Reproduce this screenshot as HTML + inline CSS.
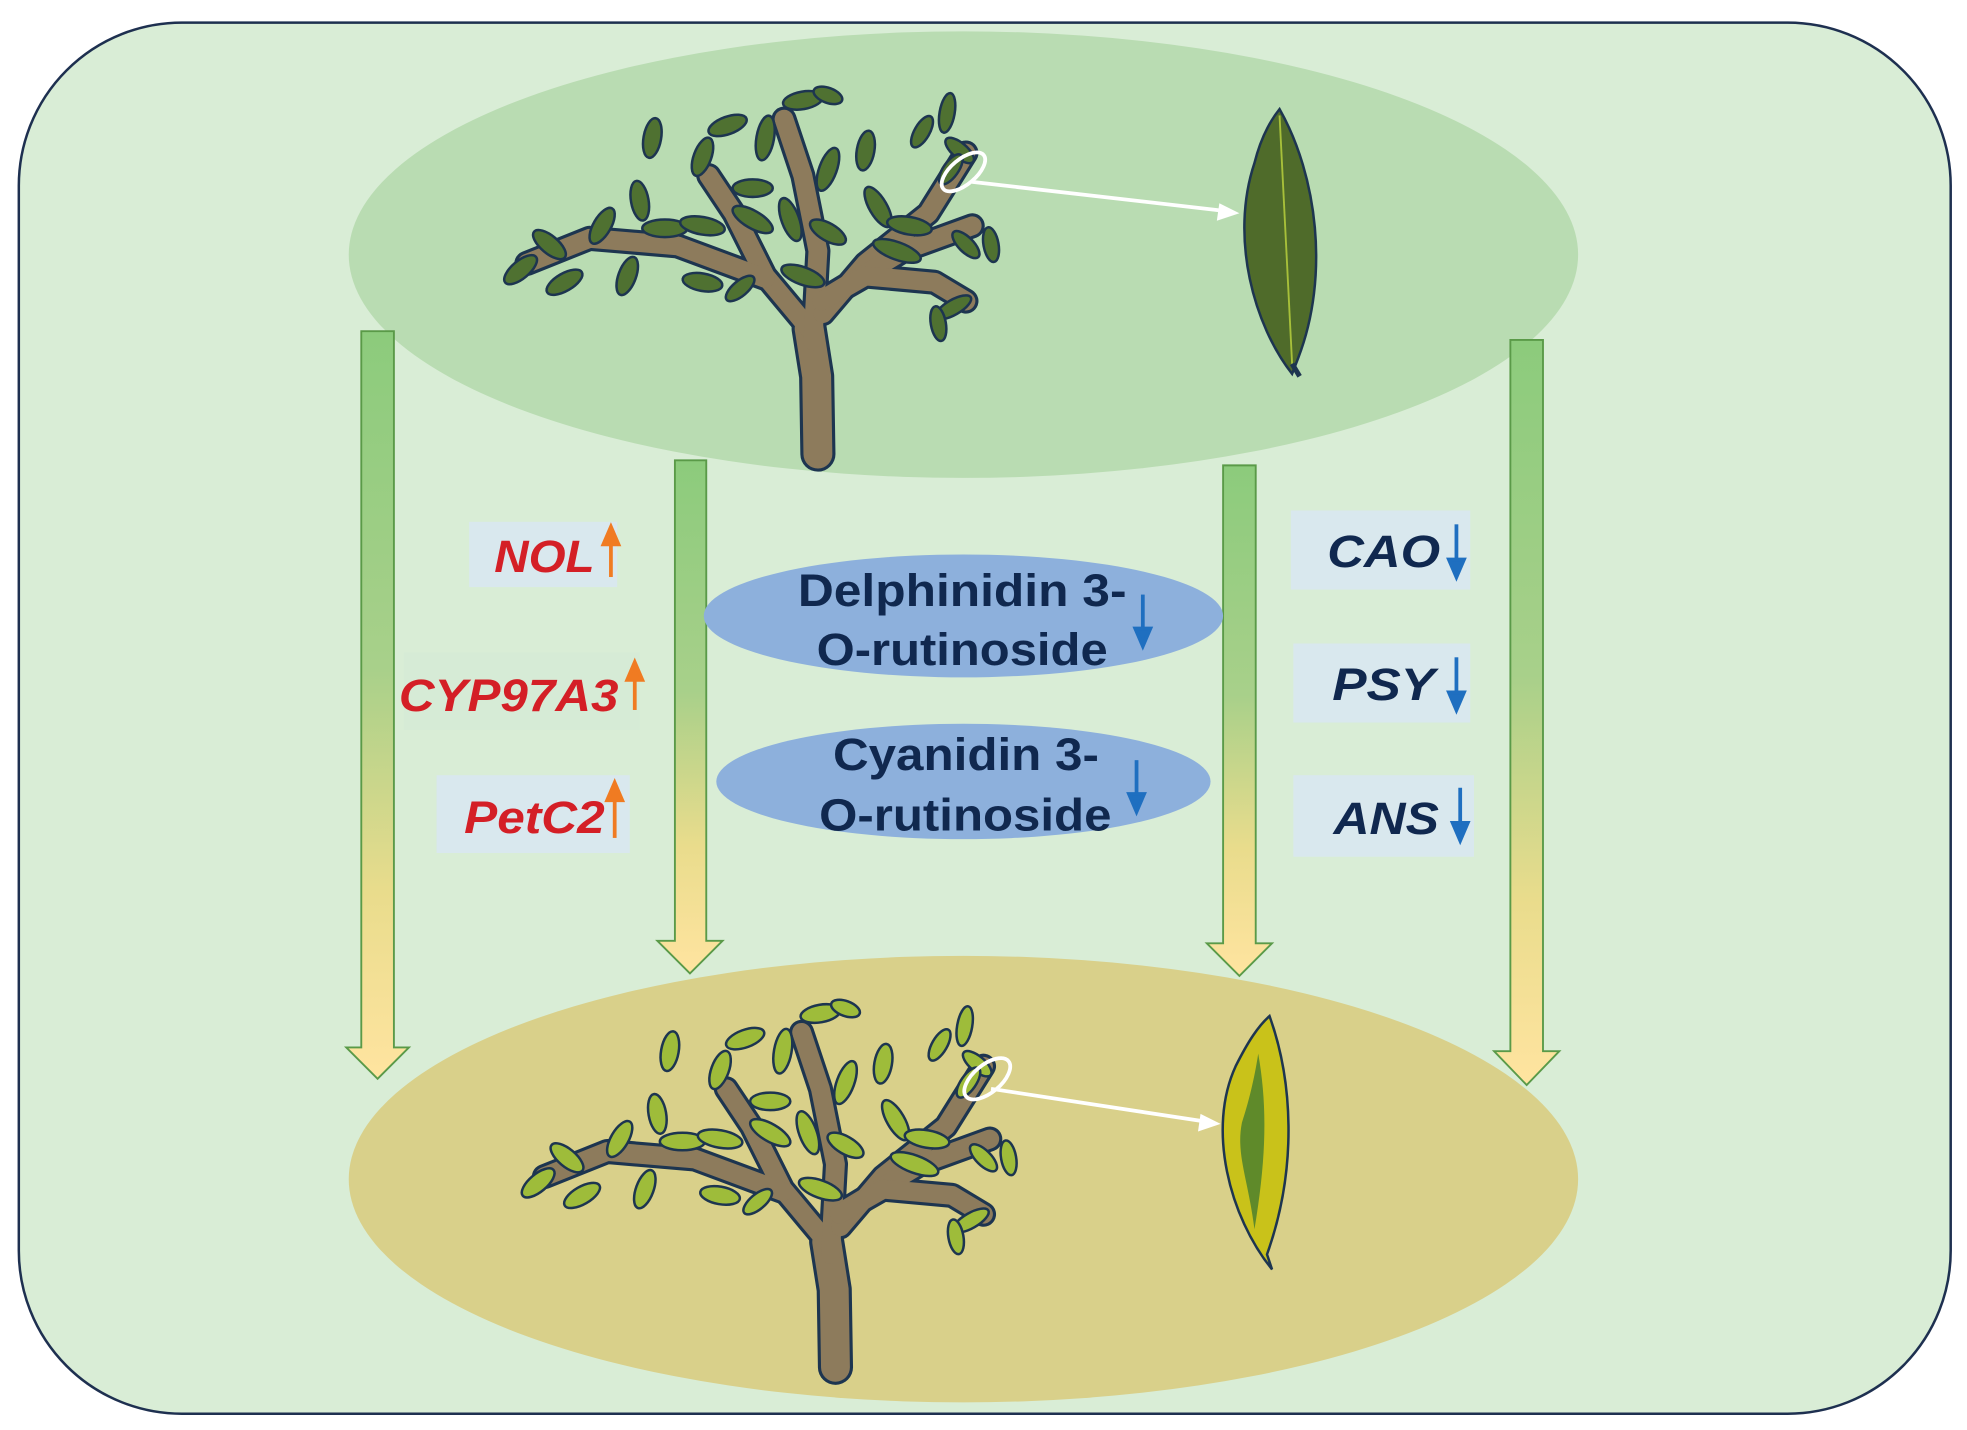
<!DOCTYPE html>
<html><head><meta charset="utf-8"><style>
html,body{margin:0;padding:0;background:#fff;}
svg{display:block}
text{font-family:"Liberation Sans Narrow","Liberation Sans",sans-serif;font-weight:bold;}
</style></head><body>
<svg width="1967" height="1430" viewBox="0 0 1568 1140" preserveAspectRatio="none" xmlns="http://www.w3.org/2000/svg">
<defs>
<linearGradient id="g" x1="0" y1="0" x2="0" y2="1">
<stop offset="0" stop-color="#8ccb7c"/><stop offset="0.45" stop-color="#a8d08a"/><stop offset="0.75" stop-color="#e9dc8c"/><stop offset="1" stop-color="#ffe4a0"/>
</linearGradient>
<g id="tree">
<g fill="none" stroke-linecap="round" stroke-linejoin="round">
<g stroke="#1d3550">
<polyline stroke-width="28" points="652,362 651,300 645,262"/>
<g stroke-width="20">
<polyline points="645,262 610,220 585,170 565,140"/>
<polyline points="610,222 540,196 470,190 420,210"/>
<polyline points="648,272 652,200 640,140 625,95"/>
<polyline points="656,250 690,210 740,170 770,122"/>
<polyline points="662,235 720,200 775,180"/>
<polyline points="655,240 690,220 745,225 770,240"/>
</g></g>
<g stroke="#8d7b5c">
<polyline stroke-width="23" points="652,362 651,300 645,262"/>
<g stroke-width="15">
<polyline points="645,262 610,220 585,170 565,140"/>
<polyline points="610,222 540,196 470,190 420,210"/>
<polyline points="648,272 652,200 640,140 625,95"/>
<polyline points="656,250 690,210 740,170 770,122"/>
<polyline points="662,235 720,200 775,180"/>
<polyline points="655,240 690,220 745,225 770,240"/>
</g></g>
</g>
<g stroke="#1d3550" stroke-width="2">
<ellipse cx="415" cy="215" rx="16" ry="7" transform="rotate(-40 415 215)"/>
<ellipse cx="438" cy="195" rx="16" ry="7" transform="rotate(40 438 195)"/>
<ellipse cx="450" cy="225" rx="16" ry="7" transform="rotate(-30 450 225)"/>
<ellipse cx="480" cy="180" rx="16" ry="7" transform="rotate(-60 480 180)"/>
<ellipse cx="500" cy="220" rx="16" ry="7" transform="rotate(-70 500 220)"/>
<ellipse cx="510" cy="160" rx="16" ry="7" transform="rotate(80 510 160)"/>
<ellipse cx="530" cy="182" rx="18" ry="7" transform="rotate(0 530 182)"/>
<ellipse cx="560" cy="180" rx="18" ry="7" transform="rotate(10 560 180)"/>
<ellipse cx="520" cy="110" rx="16" ry="7" transform="rotate(-80 520 110)"/>
<ellipse cx="560" cy="125" rx="16" ry="7" transform="rotate(-70 560 125)"/>
<ellipse cx="580" cy="100" rx="16" ry="7" transform="rotate(-20 580 100)"/>
<ellipse cx="600" cy="150" rx="16" ry="7" transform="rotate(0 600 150)"/>
<ellipse cx="610" cy="110" rx="18" ry="7" transform="rotate(-80 610 110)"/>
<ellipse cx="640" cy="80" rx="16" ry="7" transform="rotate(-10 640 80)"/>
<ellipse cx="660" cy="76" rx="12" ry="6" transform="rotate(20 660 76)"/>
<ellipse cx="600" cy="175" rx="18" ry="7" transform="rotate(30 600 175)"/>
<ellipse cx="630" cy="175" rx="18" ry="7" transform="rotate(70 630 175)"/>
<ellipse cx="660" cy="135" rx="18" ry="7" transform="rotate(-70 660 135)"/>
<ellipse cx="640" cy="220" rx="18" ry="7" transform="rotate(20 640 220)"/>
<ellipse cx="690" cy="120" rx="16" ry="7" transform="rotate(-80 690 120)"/>
<ellipse cx="700" cy="165" rx="18" ry="7" transform="rotate(60 700 165)"/>
<ellipse cx="715" cy="200" rx="20" ry="7" transform="rotate(20 715 200)"/>
<ellipse cx="725" cy="180" rx="18" ry="7" transform="rotate(10 725 180)"/>
<ellipse cx="735" cy="105" rx="14" ry="6" transform="rotate(-60 735 105)"/>
<ellipse cx="755" cy="90" rx="16" ry="6" transform="rotate(-80 755 90)"/>
<ellipse cx="765" cy="120" rx="14" ry="6" transform="rotate(40 765 120)"/>
<ellipse cx="758" cy="135" rx="14" ry="6" transform="rotate(-55 758 135)"/>
<ellipse cx="770" cy="195" rx="14" ry="6" transform="rotate(45 770 195)"/>
<ellipse cx="790" cy="195" rx="14" ry="6" transform="rotate(80 790 195)"/>
<ellipse cx="760" cy="245" rx="16" ry="6" transform="rotate(-30 760 245)"/>
<ellipse cx="748" cy="258" rx="14" ry="6" transform="rotate(80 748 258)"/>
<ellipse cx="560" cy="225" rx="16" ry="7" transform="rotate(10 560 225)"/>
<ellipse cx="660" cy="185" rx="16" ry="7" transform="rotate(30 660 185)"/>
<ellipse cx="590" cy="230" rx="14" ry="6" transform="rotate(-40 590 230)"/>
</g>
</g>
</defs>

<rect x="15" y="18" width="1540" height="1109" rx="130" ry="130" fill="#d9edd6" stroke="#1e3050" stroke-width="2"/>
<ellipse cx="768" cy="203" rx="490" ry="178" fill="#b9dcb2"/>
<ellipse cx="768" cy="940" rx="490" ry="178" fill="#d9d08a"/>

<use href="#tree" fill="#4f7131"/>
<use href="#tree" fill="#9ebc3a" transform="translate(14,728)"/>

<path d="M1020,87 C1050,140 1060,220 1035,285 L1030,298 C1000,260 980,190 1000,130 C1005,110 1012,97 1020,87 Z" fill="#4f6b2a" stroke="#1d3550" stroke-width="2"/>
<line x1="1020" y1="92" x2="1030" y2="290" stroke="#a7c03a" stroke-width="1.5"/>
<line x1="1030" y1="290" x2="1036" y2="300" stroke="#1d3550" stroke-width="4"/>
<path d="M1012,810 C1030,860 1035,930 1010,1000 L1014,1012 C980,970 962,900 985,850 C995,830 1003,818 1012,810 Z" fill="#c9c21a" stroke="#1d3550" stroke-width="2"/>
<path d="M1003,840 C1010,880 1010,920 1000,980 C995,940 985,920 990,895 C995,880 1000,860 1003,840 Z" fill="#5f8a2a"/>

<ellipse cx="768" cy="137" rx="21" ry="10" fill="none" stroke="#fff" stroke-width="3" transform="rotate(-40 768 137)"/>
<line x1="775" y1="145" x2="975" y2="168" stroke="#fff" stroke-width="3"/>
<polygon points="988,170 972,162 970,176" fill="#fff"/>
<ellipse cx="787" cy="860" rx="22" ry="11" fill="none" stroke="#fff" stroke-width="3" transform="rotate(-40 787 860)"/>
<line x1="790" y1="868" x2="960" y2="894" stroke="#fff" stroke-width="3"/>
<polygon points="973,896 957,888 955,902" fill="#fff"/>

<g fill="url(#g)" stroke="#5a9a48" stroke-width="1.5">
<path d="M288,264 H314 V835 H326 L301,860 L276,835 H288 Z"/>
<path d="M538,367 H563 V750 H576 L550,776 L524,750 H538 Z"/>
<path d="M975,371 H1001 V752 H1014 L988,778 L962,752 H975 Z"/>
<path d="M1204,271 H1230 V838 H1243 L1217,865 L1191,838 H1204 Z"/>
</g>

<g fill="#d9e8ee">
<rect x="374" y="416" width="118" height="52"/>
<rect x="322" y="520" width="188" height="62" fill="#d6ebd6"/>
<rect x="348" y="618" width="154" height="62"/>
<rect x="1029" y="407" width="143" height="63"/>
<rect x="1031" y="513" width="141" height="63"/>
<rect x="1031" y="618" width="144" height="65"/>
</g>
<g fill="#d41f26" font-style="italic" font-size="36">
<text x="394" y="456" textLength="80" lengthAdjust="spacingAndGlyphs">NOL</text>
<text x="318" y="567" textLength="175" lengthAdjust="spacingAndGlyphs">CYP97A3</text>
<text x="370" y="664" textLength="112" lengthAdjust="spacingAndGlyphs">PetC2</text>
</g>
<g stroke="#f07b22" stroke-width="3" fill="#f07b22">
<line x1="487" y1="460" x2="487" y2="432"/><polygon points="481,434 487,420 493,434"/>
<line x1="506" y1="566" x2="506" y2="540"/><polygon points="500,542 506,528 512,542"/>
<line x1="490" y1="668" x2="490" y2="636"/><polygon points="484,638 490,624 496,638"/>
</g>
<g fill="#10284f" font-style="italic" font-size="36">
<text x="1058" y="452" textLength="90" lengthAdjust="spacingAndGlyphs">CAO</text>
<text x="1062" y="558" textLength="82" lengthAdjust="spacingAndGlyphs">PSY</text>
<text x="1063" y="665" textLength="84" lengthAdjust="spacingAndGlyphs">ANS</text>
</g>
<g stroke="#1f6fc0" stroke-width="3" fill="#1f6fc0">
<line x1="1161" y1="418" x2="1161" y2="448"/><polygon points="1155,446 1161,460 1167,446"/>
<line x1="1161" y1="524" x2="1161" y2="554"/><polygon points="1155,552 1161,566 1167,552"/>
<line x1="1164" y1="628" x2="1164" y2="658"/><polygon points="1158,656 1164,670 1170,656"/>
</g>

<ellipse cx="768" cy="491" rx="207" ry="49" fill="#8db0dc"/>
<ellipse cx="768" cy="623" rx="197" ry="46" fill="#8db0dc"/>
<g fill="#10284f" font-size="36">
<text x="636" y="483" textLength="262" lengthAdjust="spacingAndGlyphs">Delphinidin 3-</text>
<text x="651" y="530" textLength="232" lengthAdjust="spacingAndGlyphs">O-rutinoside</text>
<text x="664" y="614" textLength="212" lengthAdjust="spacingAndGlyphs">Cyanidin 3-</text>
<text x="653" y="662" textLength="233" lengthAdjust="spacingAndGlyphs">O-rutinoside</text>
</g>
<g stroke="#1f6fc0" stroke-width="3" fill="#1f6fc0">
<line x1="911" y1="474" x2="911" y2="503"/><polygon points="905,501 911,515 917,501"/>
<line x1="906" y1="606" x2="906" y2="635"/><polygon points="900,633 906,647 912,633"/>
</g>
</svg>
</body></html>
